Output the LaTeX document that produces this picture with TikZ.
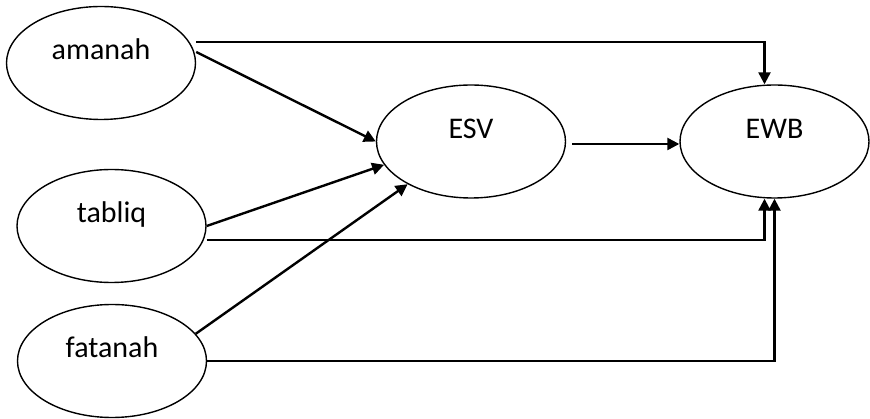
\documentclass[tikz,border=0pt]{standalone}
\usepackage{fontspec}
\setmainfont{Carlito}
\usetikzlibrary{shapes.geometric,arrows.meta,calc}
\tikzset{
  construct/.style={draw, ellipse, line width=1.4pt, inner sep=0pt,
    minimum width=189pt, minimum height=113pt,
    text height=0pt, text depth=6pt,
    font=\fontsize{30}{36}\selectfont},
  arr/.style={line width=2.4pt, -{Triangle[length=12pt,width=12pt]}}
}
\begin{document}
\begin{tikzpicture}[x=1pt,y=-1pt]
  \useasboundingbox (0,0) rectangle (870,419);
  % latent constructs
  \node[construct] (amanah)  at (101,63)    {amanah};
  \node[construct] (tabliq)  at (111.5,226) {tabliq};
  \node[construct] (fatanah) at (112,361)   {fatanah};
  \node[construct] (ESV)     at (471,141.5) {ESV};
  \node[construct] (EWB)     at (774.5,141.5) {EWB};
  % paths into ESV
  \draw[arr] ($(amanah.east)+(0,-11)$) -- (ESV.west);
  \draw[arr] (tabliq.east) -- (ESV.195);
  \draw[arr] (fatanah.18) -- (ESV.214);
  % paths into EWB
  \draw[arr] ($(ESV.east)+(6,2.5)$) -- ($(EWB.west)+(0,2.5)$);
  \draw[arr] ($(amanah.east)+(0,-21)$) -| ($(EWB.north)+(-10,0)$);
  \draw[arr] ($(tabliq.east)+(0,14)$) -| ($(EWB.south)+(-10,0)$);
  \draw[arr] (fatanah.east) -| (EWB.south);
\end{tikzpicture}
\end{document}
